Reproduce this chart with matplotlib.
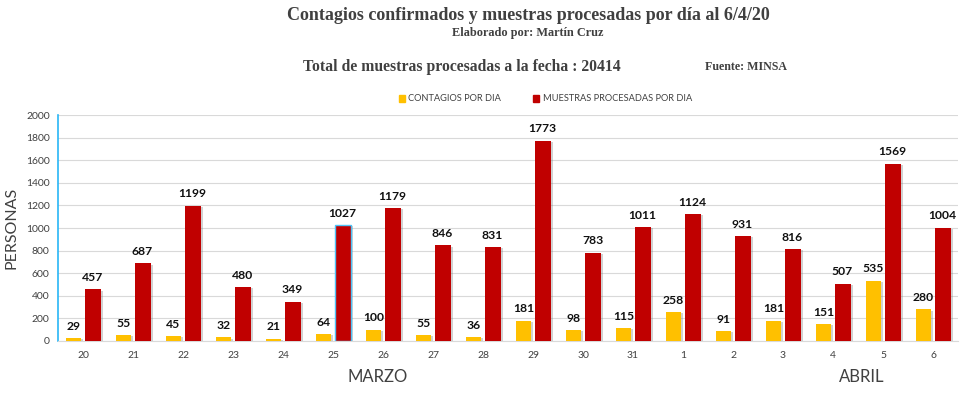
import matplotlib
matplotlib.use("Agg")
import matplotlib.pyplot as plt
import matplotlib.patheffects as pe
import numpy as np

dias = ["20", "21", "22", "23", "24", "25", "26", "27", "28", "29", "30", "31",
        "1", "2", "3", "4", "5", "6"]
contagios = [29, 55, 45, 32, 21, 64, 100, 55, 36, 181, 98, 115, 258, 91, 181, 151, 535, 280]
muestras = [457, 687, 1199, 480, 349, 1027, 1179, 846, 831, 1773, 783, 1011, 1124, 931, 816, 507, 1569, 1004]
yticks = [0, 200, 400, 600, 800, 1000, 1200, 1400, 1600, 1800, 2000]

YEL = "#FFC000"
RED = "#C00000"
GRAY = "#404040"
SANS = ["Lato", "DejaVu Sans"]
SERIF = ["Liberation Serif", "DejaVu Serif"]

fig = plt.figure(figsize=(9.8, 3.97), dpi=100)
ax = fig.add_axes([58 / 980, 56 / 397, 900 / 980, 226 / 397])

shadow = [pe.SimplePatchShadow(offset=(1.5, -1), shadow_rgbFace="#808080", alpha=0.35), pe.Normal()]

x = np.arange(len(dias))
off = 0.19
b1 = ax.bar(x - off, contagios, 0.30, color=YEL, zorder=3, path_effects=shadow)
b2 = ax.bar(x + off, muestras, 0.32, color=RED, zorder=3, path_effects=shadow)
b2[5].set_edgecolor("#4FC3F7")
b2[5].set_linewidth(1.0)

for xi, v in zip(x, contagios):
    ax.text(xi - off, v + 55, str(v), ha="center", va="bottom", fontsize=8.7,
            fontweight="bold", family=SANS, color="#111111")
for xi, v in zip(x, muestras):
    ax.text(xi + off, v + 55, str(v), ha="center", va="bottom", fontsize=8.7,
            fontweight="bold", family=SANS, color="#111111")

ax.set_xlim(-0.5, len(dias) - 0.5)
ax.set_ylim(0, 2000)
ax.set_yticks(yticks)
ax.set_yticklabels([str(t) for t in yticks], fontsize=7.5, color=GRAY, family=SANS)
ax.set_xticks(x)
ax.set_xticklabels(dias, fontsize=7.5, color=GRAY, family=SANS)
ax.tick_params(axis="both", length=0)
ax.tick_params(axis="x", pad=7)
ax.tick_params(axis="y", pad=6)
ax.grid(axis="y", color="#D9D9D9", linewidth=0.8, zorder=0)
for s in ["top", "right"]:
    ax.spines[s].set_visible(False)
ax.spines["left"].set_color("#29B6F6")
ax.spines["left"].set_linewidth(1.2)
ax.spines["bottom"].set_color("#D9D9D9")

fig.text(12 / 980, 1 - 228 / 397, "PERSONAS", rotation=90, ha="center", va="center",
         fontsize=11.5, color=GRAY, family=SANS)
fig.text(378 / 980, 1 - 377 / 397, "MARZO", ha="center", va="center",
         fontsize=12, color=GRAY, family=SANS)
fig.text(862 / 980, 1 - 377 / 397, "ABRIL", ha="center", va="center",
         fontsize=12, color=GRAY, family=SANS)

fig.text(528 / 980, 1 - 15 / 397, "Contagios confirmados y muestras procesadas por día al 6/4/20",
         ha="center", va="center", fontsize=13, fontweight="bold", color=GRAY, family=SERIF)
fig.text(528 / 980, 1 - 33 / 397, "Elaborado por: Martín Cruz",
         ha="center", va="center", fontsize=8.8, fontweight="bold", color=GRAY, family=SERIF)
fig.text(462 / 980, 1 - 67 / 397, "Total de muestras procesadas a la fecha : 20414",
         ha="center", va="center", fontsize=11.3, fontweight="bold", color=GRAY, family=SERIF)
fig.text(746 / 980, 1 - 67 / 397, "Fuente: MINSA",
         ha="center", va="center", fontsize=8.6, fontweight="bold", color=GRAY, family=SERIF)

# legend
fig.patches.append(plt.Rectangle((399 / 980, 1 - 101.5 / 397), 6 / 980, 6 / 397,
                                 transform=fig.transFigure, color=YEL, figure=fig))
fig.text(408 / 980, 1 - 98.5 / 397, "CONTAGIOS POR DIA", ha="left", va="center",
         fontsize=6.65, color=GRAY, family=SANS)
fig.patches.append(plt.Rectangle((533 / 980, 1 - 101.5 / 397), 6 / 980, 6 / 397,
                                 transform=fig.transFigure, color=RED, figure=fig))
fig.text(543 / 980, 1 - 98.5 / 397, "MUESTRAS PROCESADAS POR DIA", ha="left", va="center",
         fontsize=6.65, color=GRAY, family=SANS)

fig.savefig("out.png", dpi=100, facecolor="white")
